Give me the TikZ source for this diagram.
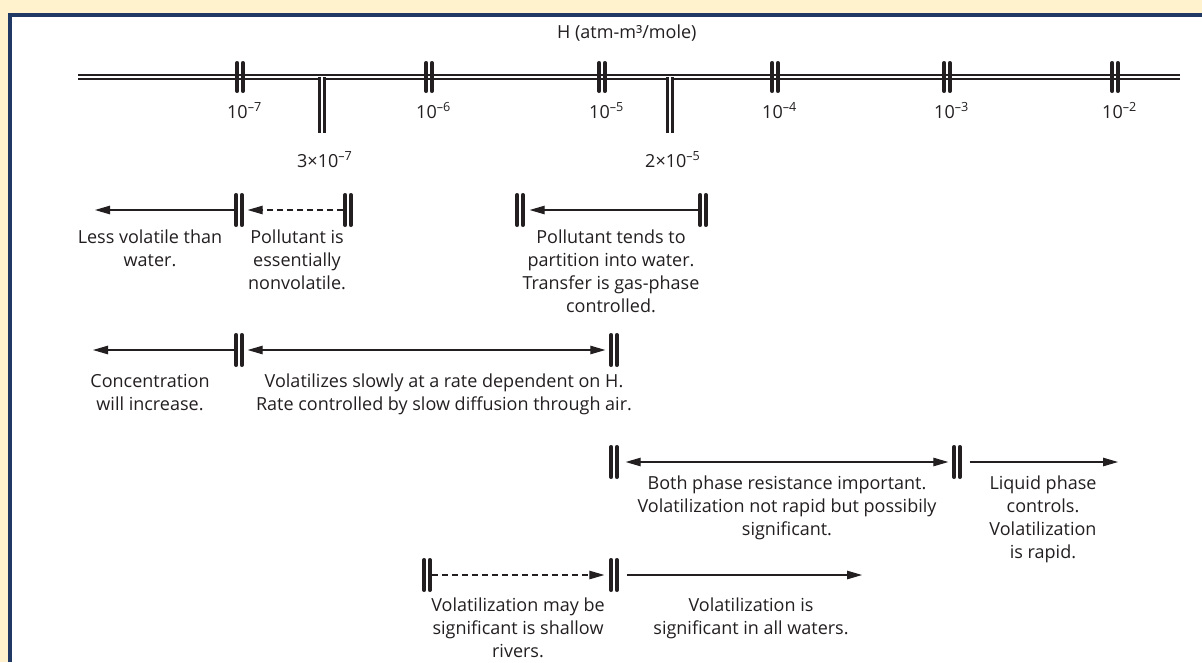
\documentclass[tikz,border=0pt]{standalone}
\usepackage{fontspec}
\setmainfont{Open Sans}
\usetikzlibrary{arrows.meta}
\definecolor{cream}{HTML}{FFF2CC}
\definecolor{frameblue}{HTML}{203864}
\definecolor{ink}{HTML}{231F20}
\begin{document}
\begin{tikzpicture}[x=1pt,y=-1pt,
  txt/.style={font=\fontsize{18}{23}\selectfont, text=ink, align=center, anchor=north, inner sep=0pt},
  ticklbl/.style={font=\fontsize{18}{23}\selectfont, text=ink, anchor=base west, inner sep=0pt},
  barnode/.style={shape=rectangle, inner sep=0pt, outer sep=0pt, minimum width=9.4pt, minimum height=34pt},
  ticknode/.style={shape=rectangle, inner sep=0pt, outer sep=0pt, minimum width=9.4pt, minimum height=32pt},
  barline/.style={draw=ink, line width=3.8pt, line cap=round},
  axisline/.style={draw=ink, line width=2.2pt, double=white, double distance=2pt},
  tee/.style={draw=ink, line width=3pt, double=white, double distance=2pt},
  arr/.style={draw=ink, line width=1.1pt, -{Triangle[length=15pt,width=8.5pt]}},
  darr/.style={draw=ink, line width=1.1pt, {Triangle[length=15pt,width=8.5pt]}-{Triangle[length=15pt,width=8.5pt]}},
  dashpat/.style={dash pattern=on 6pt off 4pt}
]
\useasboundingbox (0,0) rectangle (1202,662);
\fill[cream] (0,0) rectangle (1202,662);
\fill[white] (9.5,15) rectangle (1202,662);
\draw[frameblue, line width=4pt] (1202,15) -- (9.5,15) -- (9.5,662);

% axis
\coordinate (a0) at (78,77);
\coordinate (a1) at (1180,77);
\draw[axisline] (a0) -- (a1);
\node[txt, anchor=base west] (hlab) at (557,38) {H (atm-m³/mole)};

% decade ticks
\foreach \nm/\xx/\ex in {t7/240/7, t6/429/6, t5/602/5, t4/775/4, t3/947/3, t2/1115/2}{
  \node[ticknode] (\nm) at (\xx,77) {};
  \draw[barline] ([xshift=-2.8pt,yshift=1.9pt]\nm.south) -- ([xshift=-2.8pt,yshift=-1.9pt]\nm.north);
  \draw[barline] ([xshift=2.8pt,yshift=1.9pt]\nm.south) -- ([xshift=2.8pt,yshift=-1.9pt]\nm.north);
  \node[ticklbl] (\nm l) at (\xx-13,118) {10\textsuperscript{–\ex}};
}

% intermediate ticks
\coordinate (m7) at (322,77);
\coordinate (m7e) at (322,133);
\draw[tee] (m7) -- (m7e);
\node[ticklbl] (m7l) at (297,167) {3×10\textsuperscript{–7}};
\coordinate (m5) at (670,77);
\coordinate (m5e) at (670,133);
\draw[tee] (m5) -- (m5e);
\node[ticklbl] (m5l) at (645,167) {2×10\textsuperscript{–5}};

% bars
\foreach \nm/\xx/\yy in {b11/239/210, b12/348/210, b13/520/210, b14/703/210,
                         b21/239/350, b22/614/350,
                         b31/614/462, b32/957/462,
                         b41/427/575, b42/614/575}{
  \node[barnode] (\nm) at (\xx,\yy) {};
  \draw[barline] ([xshift=-2.8pt,yshift=1.9pt]\nm.south) -- ([xshift=-2.8pt,yshift=-1.9pt]\nm.north);
  \draw[barline] ([xshift=2.8pt,yshift=1.9pt]\nm.south) -- ([xshift=2.8pt,yshift=-1.9pt]\nm.north);
}
\coordinate (e11) at (95,210);
\coordinate (e21) at (93,350);
\coordinate (e31) at (1118,462);
\coordinate (e41) at (862,575);

% row 1
\draw[arr] (b11.west) -- (e11);
\draw[arr, dashpat, shorten >=4pt] (b12.west) -- (b11.east);
\draw[arr, shorten >=5pt] (b14.west) -- (b13.east);
% row 2
\draw[arr] (b21.west) -- (e21);
\draw[darr, shorten <=4pt, shorten >=4pt] (b21.east) -- (b22.west);
% row 3
\draw[darr, shorten <=7pt, shorten >=4pt] (b31.east) -- (b32.west);
\draw[arr, shorten <=8pt] (b32.east) -- (e31);
% row 4
\draw[arr, dashpat, shorten >=5pt] (b41.east) -- (b42.west);
\draw[arr, shorten <=8pt] (b42.east) -- (e41);

% texts
\node[txt] (x11) at (150,230) {Less volatile than\\water.};
\node[txt] (x12) at (297,230) {Pollutant is\\essentially\\nonvolatile.};
\node[txt] (x13) at (611,229.5) {Pollutant tends to\\partition into water.\\Transfer is gas-phase\\controlled.};
\node[txt] (x21) at (150,374) {Concentration\\will increase.};
\node[txt] (x22) at (444,374) {Volatilizes slowly at a rate dependent on H.\\Rate controlled by slow diffusion through air.};
\node[txt] (x31) at (787,475.5) {Both phase resistance important.\\Volatilization not rapid but possibily\\significant.};
\node[txt] (x32) at (1043,475.5) {Liquid phase\\controls.\\Volatilization\\is rapid.};
\node[txt] (x41) at (518,597.5) {Volatilization may be\\significant is shallow\\rivers.};
\node[txt] (x42) at (751,597.5) {Volatilization is\\significant in all waters.};
\end{tikzpicture}
\end{document}
